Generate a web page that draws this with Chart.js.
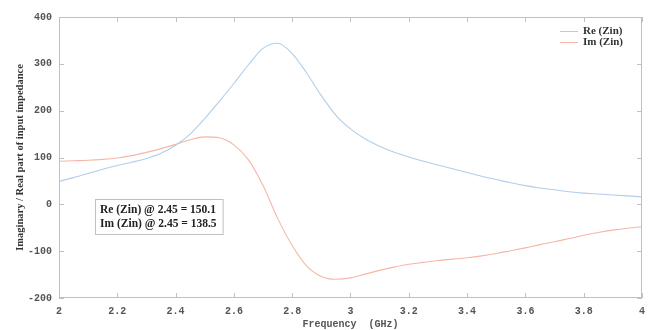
<!DOCTYPE html>
<html>
<head>
<meta charset="utf-8">
<script src="https://cdn.jsdelivr.net/npm/chart.js@4.4.0/dist/chart.umd.min.js"></script>
<style>
  html, body { margin: 0; padding: 0; background: #fff; }
  #wrap { width: 652px; height: 330px; }
</style>
</head>
<body>
<div id="wrap"><canvas id="zinChart" width="652" height="330"></canvas></div>
<script>
// frequency in GHz, step 0.05
const freq = [2.00, 2.05, 2.10, 2.15, 2.20, 2.25, 2.30, 2.35, 2.40, 2.45,
              2.50, 2.55, 2.60, 2.65, 2.70, 2.75, 2.80, 2.85, 2.90, 2.95,
              3.00, 3.05, 3.10, 3.15, 3.20, 3.25, 3.30, 3.35, 3.40, 3.45,
              3.50, 3.55, 3.60, 3.65, 3.70, 3.75, 3.80, 3.85, 3.90, 3.95, 4.00];

const reZin = [49, 57, 66, 75, 83, 90, 98, 109, 126, 150,
               183, 220, 258, 298, 333, 344, 322, 280, 232, 190,
               161, 140, 124, 111, 101, 92, 84, 76, 68, 60,
               53, 46, 40, 35, 31, 27, 24, 22, 20, 18, 16];

const imZin = [92, 93, 94, 96, 99, 104, 111, 119, 128, 138,
               144, 142, 127, 95, 40, -30, -88, -132, -154, -160,
               -157, -149, -141, -134, -128, -124, -120, -117, -114, -110,
               -105, -99, -93, -86, -80, -73, -66, -60, -55, -51, -48];

const noteLines = ['Re (Zin) @ 2.45 = 150.1', 'Im (Zin) @ 2.45 = 138.5'];

const reColor = 'rgb(176,206,234)';
const imColor = 'rgb(246,182,166)';
const frameColor = '#c0c0c0';
const tickFont = { family: '"Liberation Mono", "DejaVu Sans Mono", monospace', size: 10, weight: 'bold' };
const serifBold = '"Liberation Serif", "DejaVu Serif", serif';

function toPoints(xs, ys) {
    return xs.map((x, i) => ({ x: x, y: ys[i] }));
}

// box frame, inward ticks, legend and note
const decorPlugin = {
    id: 'decor',
    afterDraw(chart) {
        const c = chart.ctx;
        const a = chart.chartArea;
        const xs = chart.scales.x;
        const ys = chart.scales.y;
        c.save();
        c.strokeStyle = frameColor;
        c.lineWidth = 1;
        c.strokeRect(a.left + 0.5, a.top + 0.5, a.right - a.left - 1, a.bottom - a.top - 1);
        c.beginPath();
        xs.ticks.forEach(t => {
            const px = Math.round(xs.getPixelForValue(t.value)) + 0.5;
            c.moveTo(px, a.bottom); c.lineTo(px, a.bottom - 5);
            c.moveTo(px, a.top); c.lineTo(px, a.top + 5);
        });
        ys.ticks.forEach(t => {
            const py = Math.round(ys.getPixelForValue(t.value)) + 0.5;
            c.moveTo(a.left, py); c.lineTo(a.left + 5, py);
            c.moveTo(a.right, py); c.lineTo(a.right - 5, py);
        });
        c.stroke();

        // legend
        c.font = 'bold 11px ' + serifBold;
        c.textBaseline = 'middle';
        c.fillStyle = '#333';
        chart.data.datasets.forEach((ds, i) => {
            const ly = 31 + i * 11;
            c.strokeStyle = ds.borderColor;
            c.beginPath();
            c.moveTo(560, ly + 0.5); c.lineTo(578, ly + 0.5);
            c.stroke();
            c.fillText(ds.label, 583, ly);
        });

        // note box
        c.font = 'bold 11.5px ' + serifBold;
        const w = Math.max(...noteLines.map(s => c.measureText(s).width));
        const bx = 95, by = 199;
        c.strokeStyle = frameColor;
        c.strokeRect(bx + 0.5, by + 0.5, w + 11, 35);
        c.fillStyle = '#222';
        noteLines.forEach((s, i) => c.fillText(s, bx + 5, by + 11 + i * 14));
        c.restore();
    }
};

new Chart(document.getElementById('zinChart'), {
    type: 'line',
    data: {
        datasets: [
            { label: 'Re (Zin)', data: toPoints(freq, reZin), borderColor: reColor, borderWidth: 1.1 },
            { label: 'Im (Zin)', data: toPoints(freq, imZin), borderColor: imColor, borderWidth: 1.1 }
        ]
    },
    options: {
        responsive: false,
        animation: false,
        layout: { padding: { top: 17, right: 10, left: 0, bottom: 0 } },
        elements: { point: { radius: 0 }, line: { tension: 0.4, cubicInterpolationMode: 'monotone' } },
        plugins: { legend: { display: false }, tooltip: { enabled: false } },
        scales: {
            x: {
                type: 'linear', min: 2, max: 4,
                grid: { display: false, drawTicks: false }, border: { display: false },
                ticks: {
                    stepSize: 0.2, padding: 7, color: '#555', font: tickFont, maxRotation: 0,
                    callback: v => String(Number(v.toFixed(1)))
                },
                title: {
                    display: true, text: 'Frequency  (GHz)', color: '#555',
                    font: tickFont, padding: { top: 0, bottom: 0 }
                },
                afterFit: s => { s.height = 32; }
            },
            y: {
                min: -200, max: 400,
                grid: { display: false, drawTicks: false }, border: { display: false },
                ticks: { stepSize: 100, padding: 7, color: '#555', font: tickFont },
                title: {
                    display: true, text: 'Imaginary / Real part of input impedance', color: '#333',
                    font: { family: serifBold, size: 10.5, weight: 'bold' }, padding: { top: 14, bottom: 0 }
                },
                afterFit: s => { s.width = 59; }
            }
        }
    },
    plugins: [decorPlugin]
});
</script>
</body>
</html>
